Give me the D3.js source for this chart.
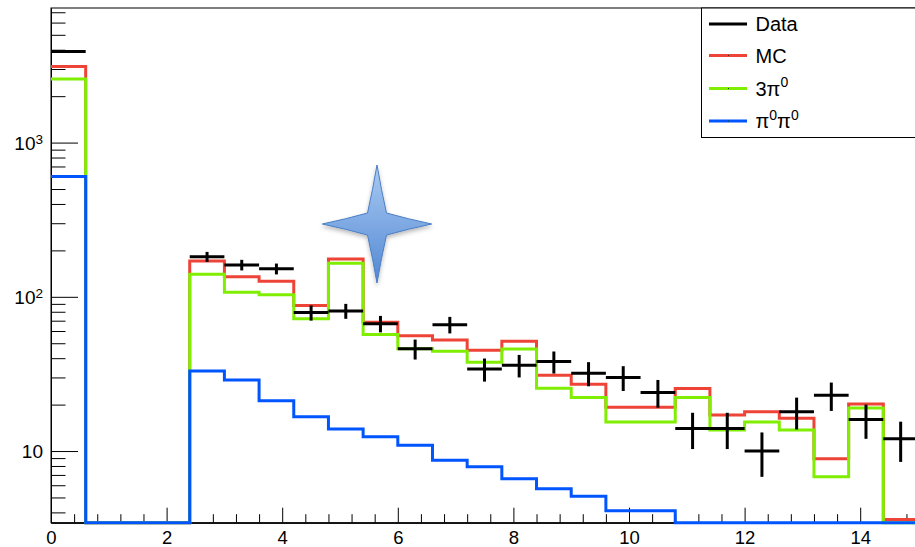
<!DOCTYPE html>
<html>
<head>
<meta charset="utf-8">
<script src="https://cdn.jsdelivr.net/npm/d3@7"></script>
<style>
  html, body { margin: 0; padding: 0; background: #fff; }
  svg { display: block; font-family: "Liberation Sans", Arial, Helvetica, sans-serif; }
</style>
</head>
<body>
<svg id="chart" width="915" height="547"></svg>
<script>
// Bin edges of the histograms (25 bins of width 0.6)
const binEdges = [0, 0.6, 1.2, 1.8, 2.4, 3.0, 3.6, 4.2, 4.8, 5.4, 6.0, 6.6, 7.2, 7.8,
                  8.4, 9.0, 9.6, 10.2, 10.8, 11.4, 12.0, 12.6, 13.2, 13.8, 14.4, 15.0];

// Measured counts with their errors (null = empty bin)
const dataCounts = [3890, null, null, null, 182, 161, 152, 79, 81, 67, 46, 66, 34, 36, 38,
                    32, 30, 24, 14, 14, 10, 18, 23, 16, 12];
const dataErrors = [62, null, null, null, 13.5, 12.7, 12.3, 8.9, 9.0, 8.2, 6.8, 8.1, 5.8, 6.0, 6.2,
                    5.7, 5.5, 4.9, 3.7, 3.7, 3.2, 4.2, 4.8, 4.0, 3.5];

// Simulated distributions
const mcTotal  = [3110, 0, 0, 0, 171, 135, 126, 88, 176, 68.4, 56, 52.5, 45, 51.5, 31,
                  27.1, 19.2, 19.2, 25.4, 17.1, 18.0, 16.3, 8.9, 20.2, 3.6];
const threePi0 = [2580, 0, 0, 0, 140, 107, 103, 72, 165, 57, 46, 44.4, 37.7, 45.9, 25.5,
                  22.2, 15.4, 15.4, 22.2, 13.7, 15.4, 13.7, 6.8, 19.0, 0];
const twoPi0   = [603, 0, 0, 0, 33, 28.9, 21.2, 16.7, 13.9, 12.4, 10.9, 8.7, 7.9, 6.6, 5.7,
                  5.1, 4.1, 4.1, 0, 0, 0, 0, 0, 0, 0];

// Axis ticks and labels
const xMajorTicks = [0, 2, 4, 6, 8, 10, 12, 14];
const xTickLabels = ["0", "2", "4", "6", "8", "10", "12", "14"];
const xMinorTicks = [0.4, 0.8, 1.2, 1.6, 2.4, 2.8, 3.2, 3.6, 4.4, 4.8, 5.2, 5.6, 6.4, 6.8, 7.2, 7.6,
                     8.4, 8.8, 9.2, 9.6, 10.4, 10.8, 11.2, 11.6, 12.4, 12.8, 13.2, 13.6, 14.4, 14.8];
const yMajorTicks = [10, 100, 1000];
const yTickBase = ["10", "10", "10"];
const yTickExp  = ["", "2", "3"];
const yMinorTicks = [4, 5, 6, 7, 8, 9, 20, 30, 40, 50, 60, 70, 80, 90,
                     200, 300, 400, 500, 600, 700, 800, 900, 2000, 3000, 4000, 5000, 6000, 7000];

// Legend
const legendNames = [[["Data", false]], [["MC", false]], [["3π", false], ["0", true]],
                     [["π", false], ["0", true], ["π", false], ["0", true]]];
const legendColors = ["#000000", "#ee4337", "#80ee00", "#0055ff"];

(function draw() {
  const svg = d3.select("#chart");
  const W = 915, H = 547;
  const pl = 51, pr = 918, pt = 8, pb = 522.7;

  svg.append("rect").attr("width", W).attr("height", H).attr("fill", "#fff");

  const x = d3.scaleLinear().domain([0, 15]).range([pl, pr]);
  const yMin = 3.43, yMax = 7460;
  const y = d3.scaleLog().domain([yMin, yMax]).range([pb, pt]);
  const yc = v => y(Math.max(v, yMin));

  // Frame
  svg.append("rect")
    .attr("x", pl).attr("y", pt)
    .attr("width", pr - pl).attr("height", pb - pt)
    .attr("fill", "none").attr("stroke", "#000").attr("stroke-width", 1);

  // Bottom axis
  const xMinorAxis = d3.axisBottom(x).tickValues(xMinorTicks).tickSizeInner(-8.5).tickSizeOuter(0).tickFormat("");
  const xMajorAxis = d3.axisBottom(x).tickValues(xMajorTicks).tickSizeInner(-15).tickSizeOuter(0)
    .tickPadding(8.5).tickFormat((d, i) => xTickLabels[i]);
  svg.append("g").attr("transform", `translate(0,${pb})`).call(xMinorAxis);
  const gx = svg.append("g").attr("transform", `translate(0,${pb})`).call(xMajorAxis);
  gx.selectAll("text").attr("font-size", 18.5).attr("fill", "#000")
    .attr("font-family", "'Liberation Sans', Arial, Helvetica, sans-serif");

  // Left axis
  const yMinorAxis = d3.axisLeft(y).tickValues(yMinorTicks).tickSizeInner(-14.5).tickSizeOuter(0).tickFormat("");
  const yMajorAxis = d3.axisLeft(y).tickValues(yMajorTicks).tickSizeInner(-27).tickSizeOuter(0)
    .tickPadding(8).tickFormat("");
  svg.append("g").attr("transform", `translate(${pl},0)`).call(yMinorAxis);
  const gy = svg.append("g").attr("transform", `translate(${pl},0)`).call(yMajorAxis);
  gy.selectAll(".tick").each(function(d, i) {
    const t = d3.select(this).append("text")
      .attr("x", -8).attr("dy", "0.36em")
      .attr("text-anchor", "end").attr("fill", "#000").attr("font-size", 19)
      .attr("font-family", "'Liberation Sans', Arial, Helvetica, sans-serif");
    t.append("tspan").text(yTickBase[i]);
    if (yTickExp[i]) {
      t.append("tspan").attr("font-size", 13.5).attr("dy", "-0.45em").text(yTickExp[i]);
    }
  });
  svg.selectAll(".tick line").attr("stroke", "#000");
  svg.selectAll(".domain").attr("stroke", "#000");

  // Step histograms
  function stepPoints(values) {
    const p = values.map((v, i) => [binEdges[i], v]);
    p.push([binEdges[values.length], values[values.length - 1]]);
    return p;
  }
  const stepLine = d3.line()
    .x(d => x(d[0]))
    .y(d => yc(d[1]))
    .curve(d3.curveStepAfter);

  const hists = [
    { values: mcTotal,  color: legendColors[1] },
    { values: threePi0, color: legendColors[2] },
    { values: twoPi0,   color: legendColors[3] }
  ];
  svg.append("g").selectAll("path").data(hists).join("path")
    .attr("d", h => stepLine(stepPoints(h.values)))
    .attr("fill", "none")
    .attr("stroke", h => h.color)
    .attr("stroke-width", 3)
    .attr("stroke-linejoin", "miter");

  // Data points with error bars
  const pts = dataCounts.map((v, i) => ({ v, e: dataErrors[i], lo: binEdges[i], hi: binEdges[i + 1] }))
    .filter(d => d.v !== null);
  const gd = svg.append("g").attr("stroke", "#000").attr("stroke-width", 3);
  gd.selectAll("line.h").data(pts).join("line").attr("class", "h")
    .attr("x1", d => x(d.lo)).attr("x2", d => x(d.hi))
    .attr("y1", d => y(d.v)).attr("y2", d => y(d.v));
  gd.selectAll("line.v").data(pts).join("line").attr("class", "v")
    .attr("x1", d => x((d.lo + d.hi) / 2)).attr("x2", d => x((d.lo + d.hi) / 2))
    .attr("y1", d => y(d.v + d.e)).attr("y2", d => y(d.v - d.e));

  // Four-pointed star ornament
  const defs = svg.append("defs");
  const grad = defs.append("linearGradient").attr("id", "starFill")
    .attr("x1", 0).attr("y1", 0).attr("x2", 0).attr("y2", 1);
  grad.append("stop").attr("offset", "0%").attr("stop-color", "#a9cbf2");
  grad.append("stop").attr("offset", "50%").attr("stop-color", "#7ea9e3");
  grad.append("stop").attr("offset", "100%").attr("stop-color", "#5288d2");
  const shadow = defs.append("filter").attr("id", "starShadow")
    .attr("x", "-30%").attr("y", "-30%").attr("width", "160%").attr("height", "160%");
  shadow.append("feDropShadow").attr("dx", 0).attr("dy", 2.5).attr("stdDeviation", 2)
    .attr("flood-color", "#000").attr("flood-opacity", 0.28);

  const cx = 377, cy = 224, rt = 59, rb = 59, rl = 54.7, rr = 54.7, kx = 9.5, ky = 11;
  const starPath = [
    `M${cx},${cy - rt}`,
    `Q${cx + 4.3},${cy - 34} ${cx + kx},${cy - ky}`,
    `Q${cx + 31},${cy - 5} ${cx + rr},${cy}`,
    `Q${cx + 31},${cy + 5} ${cx + kx},${cy + ky}`,
    `Q${cx + 4.3},${cy + 34} ${cx},${cy + rb}`,
    `Q${cx - 4.3},${cy + 34} ${cx - kx},${cy + ky}`,
    `Q${cx - 31},${cy + 5} ${cx - rl},${cy}`,
    `Q${cx - 31},${cy - 5} ${cx - kx},${cy - ky}`,
    `Q${cx - 4.3},${cy - 34} ${cx},${cy - rt}`, "Z"
  ].join(" ");
  svg.append("path").attr("d", starPath)
    .attr("fill", "url(#starFill)")
    .attr("stroke", "#4a7ec4").attr("stroke-width", 1)
    .attr("stroke-linejoin", "miter")
    .attr("filter", "url(#starShadow)");

  // Legend
  const lg = svg.append("g");
  lg.append("rect")
    .attr("x", 701.5).attr("y", pt).attr("width", 240).attr("height", 129.5)
    .attr("fill", "#fff").attr("stroke", "#000").attr("stroke-width", 1);
  const rowY = [24, 55.5, 88.5, 121];
  legendNames.forEach((parts, i) => {
    lg.append("line")
      .attr("x1", 709).attr("x2", 747).attr("y1", rowY[i]).attr("y2", rowY[i])
      .attr("stroke", legendColors[i]).attr("stroke-width", 3);
    if (i > 0) {
      lg.append("rect").attr("x", 728).attr("y", rowY[i] - 0.5).attr("width", 1).attr("height", 1)
        .attr("fill", "#333");
    }
    const t = lg.append("text")
      .attr("x", 755.5).attr("y", rowY[i] + 7.3)
      .attr("font-size", 20).attr("fill", "#000");
    let raised = false;
    parts.forEach(([txt, sup]) => {
      const ts = t.append("tspan").text(txt);
      if (sup && !raised) { ts.attr("font-size", 14).attr("dy", -8.4); raised = true; }
      else if (!sup && raised) { ts.attr("dy", 8.4); raised = false; }
    });
  });
})();
</script>
</body>
</html>
